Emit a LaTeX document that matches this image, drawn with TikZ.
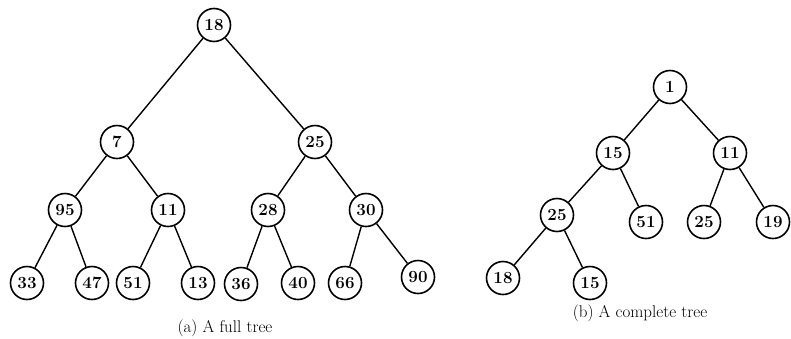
\documentclass[tikz,border=0pt]{standalone}
\usepackage{tikz}
\usetikzlibrary{positioning}

\begin{document}
\begin{tikzpicture}[x=1pt, y=-1pt,
    vertex/.style={circle, draw, line width=1.6pt, minimum size=33pt, inner sep=0pt, font=\fontsize{17}{17}\selectfont\bfseries},
    edge/.style={line width=1.4pt},
    caption/.style={font=\fontsize{17}{17}\selectfont}]
    \useasboundingbox (0,0) rectangle (791,338);

    % (a) full tree
    \node[vertex] (a1) at (214, 25) {18};
    \node[vertex] (a2) at (117, 142) {7};
    \node[vertex] (a3) at (315, 142) {25};
    \node[vertex] (a4) at (65, 210) {95};
    \node[vertex] (a5) at (168, 210) {11};
    \node[vertex] (a6) at (268, 210) {28};
    \node[vertex] (a7) at (366, 210) {30};
    \node[vertex] (a8) at (27, 283) {33};
    \node[vertex] (a9) at (92, 283) {47};
    \node[vertex] (a10) at (133, 283) {51};
    \node[vertex] (a11) at (198, 283) {13};
    \node[vertex] (a12) at (241, 284) {36};
    \node[vertex] (a13) at (298, 283) {40};
    \node[vertex] (a14) at (345, 283) {66};
    \node[vertex] (a15) at (418, 277) {90};
    \foreach \p/\c in {a1/a2, a1/a3, a2/a4, a2/a5, a3/a6, a3/a7,
                       a4/a8, a4/a9, a5/a10, a5/a11, a6/a12, a6/a13, a7/a14, a7/a15}
        \draw[edge] (\p) -- (\c);
    \node[caption] (capa) at (225, 328) {(a) A full tree};

    % (b) complete tree
    \node[vertex] (b1) at (670, 87) {1};
    \node[vertex] (b2) at (613, 153) {15};
    \node[vertex] (b3) at (730, 153) {11};
    \node[vertex] (b4) at (557, 215) {25};
    \node[vertex] (b5) at (646, 222) {51};
    \node[vertex] (b6) at (704, 222) {25};
    \node[vertex] (b7) at (773, 222) {19};
    \node[vertex] (b8) at (503, 278) {18};
    \node[vertex] (b9) at (590, 283) {15};
    \foreach \p/\c in {b1/b2, b1/b3, b2/b4, b2/b5, b3/b6, b3/b7, b4/b8, b4/b9}
        \draw[edge] (\p) -- (\c);
    \node[caption] (capb) at (640, 313) {(b) A complete tree};
\end{tikzpicture}
\end{document}
